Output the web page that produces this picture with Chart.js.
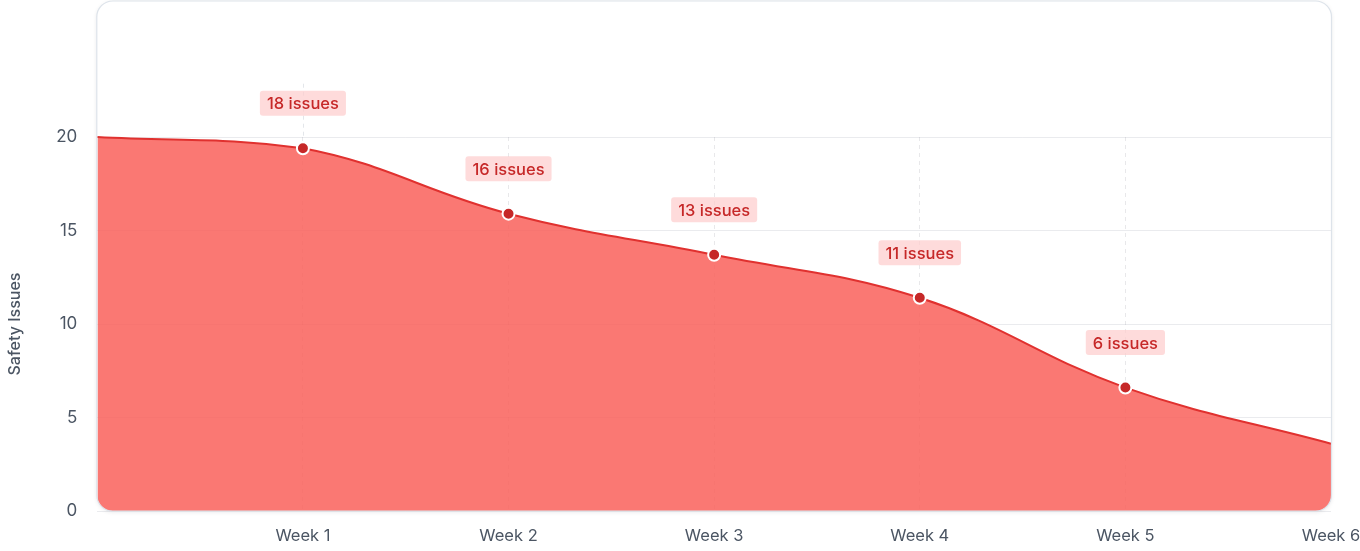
<!DOCTYPE html>
<html>
<head>
<meta charset="utf-8">
<style>
  html, body { margin: 0; padding: 0; background: #ffffff; }
  #wrap { width: 1360px; height: 551px; position: relative; }
</style>
<script src="https://cdn.jsdelivr.net/npm/chart.js@4.4.0/dist/chart.umd.min.js"></script>
</head>
<body>
<div id="wrap"><canvas id="c"></canvas></div>
<script>
// ---- data ----
const weekLabels = ['', 'Week 1', 'Week 2', 'Week 3', 'Week 4', 'Week 5', 'Week 6'];
const issueValues = [20.0, 19.4, 15.9, 13.7, 11.4, 6.6, 3.6];
const issueCallouts = [null, 18, 16, 13, 11, 6, null];
const yAxisTitle = 'Safety Issues';
const yMin = 0, yMax = 20, yStep = 5;

const FONT = 'Inter, "Helvetica Neue", Arial, sans-serif';

function rrPath(ctx, x, y, w, h, r) {
  ctx.beginPath();
  ctx.moveTo(x + r, y);
  ctx.lineTo(x + w - r, y);
  ctx.arcTo(x + w, y, x + w, y + r, r);
  ctx.lineTo(x + w, y + h - r);
  ctx.arcTo(x + w, y + h, x + w - r, y + h, r);
  ctx.lineTo(x + r, y + h);
  ctx.arcTo(x, y + h, x, y + h - r, r);
  ctx.lineTo(x, y + r);
  ctx.arcTo(x, y, x + r, y, r);
  ctx.closePath();
}

const panelPlugin = {
  id: 'panel',
  box(chart) {
    const a = chart.chartArea;
    const top = 1;
    return { x: a.left - 0.5, y: top, w: a.right - a.left + 1, h: a.bottom - top, r: 16 };
  },
  beforeDraw(chart) {
    const ctx = chart.ctx, b = this.box(chart);
    ctx.save();
    ctx.shadowColor = 'rgba(15,23,42,0.10)';
    ctx.shadowBlur = 4;
    ctx.shadowOffsetY = 1;
    rrPath(ctx, b.x, b.y, b.w, b.h, b.r);
    ctx.fillStyle = '#ffffff';
    ctx.fill();
    ctx.restore();
  },
  beforeDatasetsDraw(chart) {
    const ctx = chart.ctx, b = this.box(chart);
    ctx.save();
    rrPath(ctx, b.x, b.y, b.w, b.h, b.r);
    ctx.clip();
  },
  afterDatasetsDraw(chart) {
    const ctx = chart.ctx, b = this.box(chart);
    ctx.restore();
    ctx.save();
    rrPath(ctx, b.x, b.y, b.w, b.h, b.r);
    ctx.strokeStyle = '#dde3ea';
    ctx.lineWidth = 1.2;
    ctx.stroke();
    ctx.restore();
  }
};

const calloutPlugin = {
  id: 'callouts',
  afterDatasetsDraw(chart) {
    const ctx = chart.ctx;
    const meta = chart.getDatasetMeta(0);
    const area = chart.chartArea;
    ctx.save();
    ctx.font = '500 16.5px ' + FONT;
    issueCallouts.forEach((n, i) => {
      if (n === null) return;
      const pt = meta.data[i];
      const cy = pt.y - 45;
      const text = n + ' issues';
      const w = ctx.measureText(text).width + 14;
      const h = 25;
      const top = cy - h / 2;
      if (top - 7 < area.top) {
        ctx.save();
        ctx.strokeStyle = '#e3e6ea';
        ctx.lineWidth = 1;
        ctx.setLineDash([4, 4]);
        ctx.beginPath();
        ctx.moveTo(Math.round(pt.x) + 0.5, top - 7);
        ctx.lineTo(Math.round(pt.x) + 0.5, area.top);
        ctx.stroke();
        ctx.restore();
      }
      rrPath(ctx, pt.x - w / 2, top, w, h, 3);
      ctx.fillStyle = 'rgba(254, 205, 205, 0.72)';
      ctx.fill();
      ctx.fillStyle = '#c62828';
      ctx.textAlign = 'center';
      ctx.textBaseline = 'middle';
      ctx.fillText(text, pt.x, cy + 1);
    });
    ctx.restore();
  }
};

new Chart(document.getElementById('c'), {
  type: 'line',
  data: {
    labels: weekLabels,
    datasets: [{
      data: issueValues,
      borderColor: '#e0312f',
      borderWidth: 2,
      backgroundColor: 'rgba(249, 94, 88, 0.84)',
      fill: 'origin',
      tension: 0.4,
      clip: false,
      pointRadius: issueCallouts.map(v => v === null ? 0 : 6),
      pointHoverRadius: issueCallouts.map(v => v === null ? 0 : 6),
      pointBackgroundColor: '#c62828',
      pointBorderColor: '#ffffff',
      pointBorderWidth: 2
    }]
  },
  options: {
    responsive: true,
    maintainAspectRatio: false,
    animation: false,
    layout: { padding: { top: 137, bottom: 5, left: 0, right: 0 } },
    plugins: {
      legend: { display: false },
      tooltip: { enabled: false }
    },
    scales: {
      x: {
        offset: false,
        afterFit: s => { s.paddingRight = 29; s.paddingLeft = 0; s.height = 35; },
        grid: {
          drawTicks: false,
          color: ctx => (ctx.index === 0 || ctx.index === weekLabels.length - 1) ? 'rgba(0,0,0,0)' : 'rgba(150,150,160,0.22)',
          lineWidth: 1
        },
        border: { display: false, dash: [4, 4] },
        ticks: {
          color: '#4b5563',
          font: { family: FONT, size: 16.5 },
          padding: 15,
          maxRotation: 0,
          autoSkip: false
        }
      },
      y: {
        min: yMin,
        max: yMax,
        afterFit: s => { s.paddingTop = 0; s.paddingBottom = 0; },
        grid: { drawTicks: false, color: 'rgba(150,155,170,0.2)', lineWidth: 1 },
        border: { display: false },
        ticks: {
          stepSize: yStep,
          color: '#4b5563',
          font: { family: FONT, size: 17 },
          padding: 20
        },
        title: {
          display: true,
          text: yAxisTitle,
          color: '#4b5563',
          font: { family: FONT, size: 16, weight: '500' },
          padding: { top: 6, bottom: 11 }
        }
      }
    }
  },
  plugins: [panelPlugin, calloutPlugin]
});
</script>
</body>
</html>
